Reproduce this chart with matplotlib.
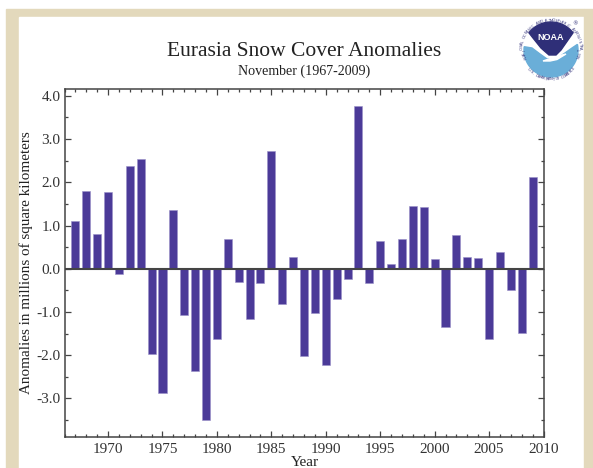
import numpy as np
import matplotlib
matplotlib.use("Agg")
import matplotlib.pyplot as plt
from matplotlib.patches import Polygon, Rectangle
from matplotlib.ticker import MultipleLocator

anios = list(range(1967, 2010))
anomalias = [1.10, 1.80, 0.80, 1.77, -0.12, 2.37, 2.55, -1.97, -2.88, 1.35,
             -1.08, -2.36, -3.50, -1.63, 0.70, -0.30, -1.17, -0.34, 2.72, -0.82,
             0.28, -2.02, -1.02, -2.23, -0.70, -0.24, 3.77, -0.32, 0.65, 0.12,
             0.70, 1.46, 1.44, 0.22, -1.35, 0.78, 0.27, 0.25, -1.62, 0.38,
             -0.50, -1.48, 2.12]
ticks_x = [1970, 1975, 1980, 1985, 1990, 1995, 2000, 2005, 2010]
ticks_y = [-3.0, -2.0, -1.0, 0.0, 1.0, 2.0, 3.0, 4.0]

ANCHO, ALTO = 593, 468
BEIGE = "#e3d9bc"
GRIS = "#444444"

plt.rcParams["font.family"] = ["Liberation Serif", "DejaVu Serif"]
fig = plt.figure(figsize=(ANCHO / 100, ALTO / 100), dpi=100, facecolor="white")


def caja(x0, y0, x1, y1):
    # pixeles de la imagen a fraccion de figura
    return [x0 / ANCHO, 1 - y1 / ALTO, (x1 - x0) / ANCHO, (y1 - y0) / ALTO]


# marco beige
x0, y0, w, h = caja(6, 9, 584, 468)
fig.patches.append(Rectangle((x0, y0), w, h, transform=fig.transFigure, color=BEIGE, zorder=-2))
x0, y0, w, h = caja(19, 17, 584, 468)
fig.patches.append(Rectangle((x0, y0), w, h, transform=fig.transFigure, color="white", zorder=-1))
x0, y0, w, h = caja(584, 9, 597, 468)
fig.patches.append(Rectangle((x0, y0), w, h, transform=fig.transFigure, color=BEIGE, zorder=-1))

ax = fig.add_axes(caja(64.5, 88.5, 543.5, 436.5))
ax.patch.set_alpha(0)
ax.bar(anios, anomalias, width=0.74, color="#4b3a98", edgecolor="#9a90c8", linewidth=0.4, zorder=2)
ax.axhline(0, color=GRIS, lw=1.5, zorder=3)

ax.set_xlim(1966, 2010)
ax.set_ylim(-3.88, 4.17)
ax.set_xticks(ticks_x)
ax.set_yticks(ticks_y)
ax.set_yticklabels([f"{v:.1f}" for v in ticks_y])
ax.xaxis.set_minor_locator(MultipleLocator(1))
ax.yaxis.set_minor_locator(MultipleLocator(0.5))
ax.tick_params(which="major", direction="in", length=4.5, width=0.9, color=GRIS,
               labelcolor="#333333", labelsize=11, top=True, right=True, pad=3)
ax.tick_params(which="minor", direction="in", length=2.2, width=0.9, color=GRIS, top=True, right=True)
ax.tick_params(axis="x", pad=4.5)
for borde in ax.spines.values():
    borde.set_color(GRIS)
    borde.set_linewidth(1.1)

fig.text(304 / ANCHO, 1 - 51.5 / ALTO, "Eurasia Snow Cover Anomalies", ha="center", va="center",
         fontsize=15.5, color="#222222")
fig.text(304.5 / ANCHO, 1 - 71 / ALTO, "November (1967-2009)", ha="center", va="center",
         fontsize=10.1, color="#222222")
fig.text(305 / ANCHO, 1 - 463 / ALTO, "Year", ha="center", va="center", fontsize=11, color="#222222")
fig.text(26 / ANCHO, 1 - 262.5 / ALTO, "Anomalies in millions of square kilometers", rotation=90,
         ha="center", va="center", fontsize=10.9, color="#222222")

# logo NOAA en coordenadas de pixel
logo = fig.add_axes(caja(515, 12, 589, 86))
logo.set_xlim(515, 589)
logo.set_ylim(86, 12)
logo.axis("off")
cx, cy, r = 551, 50, 27
AZUL_LOGO = "#6aaed8"
MARINO = "#2f2f78"

# parte azul de abajo
t = np.radians(np.linspace(-12, 187, 50))
arco = np.column_stack([cx + r * np.cos(t), cy + r * np.sin(t)])
logo.add_patch(Polygon(np.vstack([arco, [[532, 48], [540, 54], [547, 59], [556, 59], [565, 53], [572, 48]]]),
                       color=AZUL_LOGO, zorder=1))
# cola del ave
logo.add_patch(Polygon([[543, 61], [556, 56.5], [566, 54], [557, 59.5], [550, 61]], color="white", zorder=2))
# parte marina de arriba
t = np.radians(np.linspace(218, 322, 30))
arco = np.column_stack([cx + (r + 1) * np.cos(t), cy + (r + 1) * np.sin(t)])
logo.add_patch(Polygon(np.vstack([arco, [[568, 40], [561, 50], [556, 55], [549, 55], [541, 48], [533, 38]]]),
                       color=MARINO, zorder=2))
logo.text(550.5, 37, "NOAA", color="white", ha="center", va="center", fontsize=6.5,
          family="Liberation Sans", fontweight="bold", zorder=4)
logo.text(575, 23.5, "\u00ae", color=MARINO, ha="center", va="center", fontsize=4,
          family="DejaVu Sans", zorder=4)


def texto_anillo(cadena, inicio, fin, radio):
    # letra por letra alrededor del sello
    for letra, ang in zip(cadena, np.linspace(inicio, fin, len(cadena))):
        a = np.radians(ang)
        rot = -ang - 90 if np.sin(a) < 0 else -ang + 90
        logo.text(cx + radio * np.cos(a), cy + radio * np.sin(a), letra, fontsize=2.6, color="#3a3a80",
                  rotation=rot, ha="center", va="center", family="DejaVu Sans", zorder=4)


texto_anillo("NATIONAL OCEANIC AND ATMOSPHERIC ADMINISTRATION", 165, 375, 29.5)
texto_anillo("U.S. DEPARTMENT OF COMMERCE", 140, 40, 29.5)

fig.savefig("out.png", dpi=100)
